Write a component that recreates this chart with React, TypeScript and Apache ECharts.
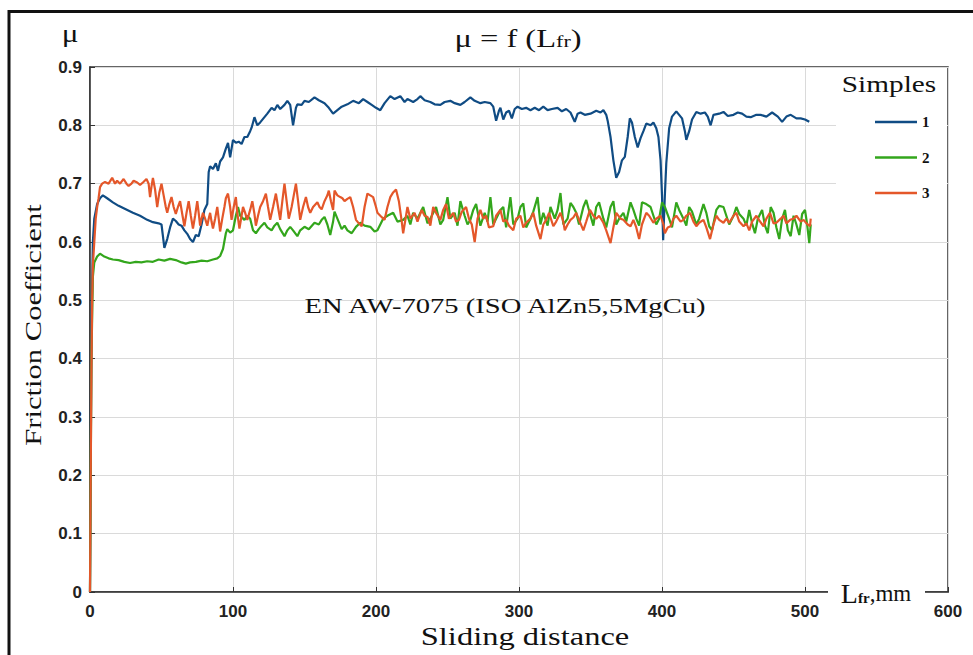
import React, { useEffect, useRef } from "react";
import * as echarts from "echarts";

// ---- data ----
const X_TICKS = [0, 100, 200, 300, 400, 500, 600];
const Y_MIN = 0;
const Y_MAX = 0.9;
const SERIES_NAMES = ["1", "2", "3"];

// Sample 1 (blue): [sliding distance mm, friction coefficient]
const SAMPLE1: [number, number][] = [
  [0, 0], [1, 0.45], [2, 0.6], [3, 0.64], [5, 0.665], [7, 0.675], [9, 0.68], [12, 0.675], [16, 0.668],
  [20, 0.662], [25, 0.656], [30, 0.65], [35, 0.645], [40, 0.638], [44, 0.634], [48, 0.632], [50, 0.63],
  [51, 0.61], [52, 0.59], [54, 0.605], [56, 0.625], [58, 0.64], [60, 0.636], [62, 0.63], [64, 0.628],
  [66, 0.62], [68, 0.614], [70, 0.605], [72, 0.6], [74, 0.612], [76, 0.61], [78, 0.63], [80, 0.655],
  [82, 0.665], [83, 0.72], [84, 0.73], [86, 0.725], [88, 0.735], [89.5, 0.722], [91, 0.738], [93, 0.745],
  [95, 0.76], [96.5, 0.77], [98, 0.745], [100, 0.775], [102, 0.77], [104, 0.772], [106, 0.768], [108, 0.78],
  [110, 0.78], [112, 0.79], [113, 0.796], [115, 0.814], [117, 0.8], [119, 0.805], [122, 0.814], [124, 0.82],
  [127, 0.83], [129, 0.826], [131, 0.835], [133, 0.828], [136, 0.835], [138, 0.842], [140, 0.835],
  [142, 0.8], [144, 0.83], [145, 0.836], [148, 0.835], [150, 0.842], [153, 0.84], [157, 0.848], [160, 0.843],
  [164, 0.838], [167, 0.83], [170, 0.82], [173, 0.826], [176, 0.832], [180, 0.836], [184, 0.842],
  [188, 0.838], [191, 0.845], [194, 0.84], [197, 0.835], [200, 0.83], [203, 0.826], [206, 0.838], [210, 0.85],
  [213, 0.845], [217, 0.85], [220, 0.84], [222, 0.845], [226, 0.84], [229, 0.845], [231, 0.85], [234, 0.843],
  [238, 0.84], [241, 0.836], [245, 0.835], [248, 0.84], [252, 0.842], [255, 0.838], [259, 0.835], [262, 0.84],
  [266, 0.848], [269, 0.842], [273, 0.838], [276, 0.84], [280, 0.838], [282, 0.832], [284, 0.808],
  [286, 0.825], [287, 0.83], [289, 0.81], [291, 0.822], [293, 0.825], [295, 0.812], [297, 0.828],
  [299, 0.832], [302, 0.828], [305, 0.83], [308, 0.826], [311, 0.83], [314, 0.826], [317, 0.832],
  [320, 0.826], [323, 0.828], [327, 0.83], [330, 0.824], [333, 0.828], [336, 0.822], [339, 0.806],
  [341, 0.82], [343, 0.822], [346, 0.818], [350, 0.82], [354, 0.825], [357, 0.822], [359, 0.826],
  [361, 0.818], [362, 0.808], [364, 0.78], [366, 0.74], [368, 0.71], [370, 0.72], [372, 0.74], [374, 0.746],
  [376, 0.78], [377.5, 0.812], [379, 0.805], [381, 0.78], [383, 0.762], [385, 0.778], [387, 0.79],
  [389, 0.803], [392, 0.8], [394, 0.805], [396, 0.795], [397.5, 0.78], [399, 0.74], [400, 0.68],
  [400.8, 0.603], [402, 0.68], [403, 0.735], [405, 0.795], [407, 0.815], [410, 0.824], [412, 0.818],
  [414, 0.812], [416, 0.79], [417, 0.775], [419, 0.79], [421, 0.81], [424, 0.823], [427, 0.82], [430, 0.822],
  [432, 0.815], [434, 0.8], [436, 0.818], [440, 0.82], [443, 0.823], [446, 0.816], [450, 0.818],
  [453, 0.822], [456, 0.82], [459, 0.815], [462, 0.814], [466, 0.818], [469, 0.818], [473, 0.815],
  [477, 0.822], [481, 0.815], [484, 0.806], [487, 0.815], [490, 0.818], [494, 0.812], [497, 0.812],
  [500, 0.81], [503, 0.806],
];

// Sample 2 (green)
const SAMPLE2: [number, number][] = [
  [0, 0], [1, 0.4], [2, 0.54], [3, 0.565], [5, 0.575], [7, 0.58], [10, 0.575], [13, 0.572], [16, 0.57],
  [20, 0.569], [24, 0.566], [28, 0.564], [32, 0.566], [36, 0.565], [40, 0.567], [44, 0.566], [48, 0.57],
  [52, 0.568], [56, 0.571], [60, 0.569], [64, 0.565], [67, 0.563], [70, 0.565], [74, 0.566], [78, 0.568],
  [82, 0.567], [86, 0.57], [89, 0.572], [91, 0.576], [93, 0.588], [95, 0.615], [96, 0.622], [98, 0.616],
  [100, 0.62], [102, 0.645], [103.5, 0.66], [105, 0.645], [108, 0.638], [110, 0.645], [112, 0.64],
  [114, 0.62], [116, 0.615], [118, 0.622], [120, 0.628], [122, 0.633], [124, 0.625], [127, 0.62],
  [129, 0.628], [131, 0.633], [133, 0.622], [136, 0.61], [138, 0.62], [140, 0.626], [142, 0.62], [145, 0.61],
  [147, 0.62], [150, 0.626], [153, 0.622], [157, 0.633], [160, 0.63], [162, 0.638], [164, 0.643],
  [166, 0.63], [168, 0.612], [170, 0.635], [171, 0.652], [173, 0.64], [176, 0.622], [178, 0.628],
  [180, 0.62], [183, 0.615], [186, 0.626], [189, 0.633], [192, 0.628], [196, 0.626], [199, 0.618],
  [201, 0.62], [205, 0.64], [208, 0.645], [212, 0.65], [215, 0.635], [219, 0.638], [222, 0.645],
  [224, 0.63], [226, 0.65], [229, 0.64], [233, 0.66], [236, 0.632], [238, 0.64], [242, 0.66], [245, 0.63],
  [247, 0.638], [250, 0.677], [252, 0.64], [255, 0.65], [257, 0.628], [259, 0.67], [262, 0.645],
  [264, 0.63], [266, 0.638], [268, 0.655], [270, 0.665], [273, 0.628], [276, 0.65], [278, 0.635],
  [280, 0.677], [282, 0.63], [284, 0.64], [287, 0.655], [289, 0.66], [291, 0.625], [294, 0.677],
  [296, 0.63], [299, 0.64], [301, 0.66], [303, 0.666], [305, 0.625], [308, 0.64], [310, 0.652],
  [313, 0.677], [315, 0.63], [317, 0.65], [320, 0.628], [322, 0.66], [325, 0.64], [327, 0.655],
  [329, 0.684], [331, 0.63], [334, 0.64], [336, 0.667], [338, 0.66], [340, 0.65], [342, 0.63], [345, 0.66],
  [347, 0.672], [350, 0.645], [352, 0.628], [354, 0.66], [356, 0.668], [359, 0.64], [361, 0.625],
  [364, 0.66], [366, 0.67], [368, 0.63], [370, 0.64], [373, 0.65], [375, 0.635], [378, 0.668],
  [380, 0.655], [382, 0.64], [384, 0.628], [386, 0.668], [389, 0.665], [392, 0.66], [394, 0.645],
  [396, 0.63], [398, 0.64], [400, 0.668], [402, 0.66], [405, 0.64], [407, 0.625], [410, 0.668],
  [412, 0.655], [415, 0.64], [417, 0.628], [419, 0.66], [421, 0.652], [424, 0.63], [426, 0.64],
  [429, 0.665], [431, 0.65], [433, 0.627], [435, 0.62], [438, 0.655], [440, 0.662], [443, 0.66],
  [445, 0.645], [447, 0.63], [450, 0.645], [452, 0.66], [454, 0.648], [457, 0.64], [459, 0.628],
  [461, 0.655], [463, 0.632], [465, 0.615], [467, 0.64], [470, 0.655], [472, 0.628], [474, 0.615],
  [476, 0.66], [478, 0.65], [480, 0.625], [482, 0.605], [484, 0.64], [486, 0.655], [488, 0.62],
  [490, 0.61], [492, 0.645], [494, 0.63], [496, 0.612], [498, 0.648], [500, 0.655], [501.5, 0.63],
  [503, 0.598], [504, 0.63],
];

// Sample 3 (orange)
const SAMPLE3: [number, number][] = [
  [0, 0], [0.5, 0.2], [1, 0.38], [1.5, 0.5], [2, 0.56], [3, 0.6], [4, 0.64], [5, 0.66], [6, 0.675],
  [7, 0.694], [8.5, 0.7], [10.5, 0.703], [13, 0.7], [15.5, 0.71], [17.5, 0.7], [19, 0.705], [21, 0.7],
  [23.5, 0.708], [25.5, 0.7], [27, 0.696], [29, 0.7], [30.5, 0.705], [33, 0.702], [35, 0.698], [37, 0.702],
  [39.5, 0.708], [41, 0.7], [42, 0.677], [43, 0.695], [44, 0.71], [45.5, 0.69], [47, 0.66], [48.5, 0.685],
  [50, 0.7], [51.5, 0.68], [53, 0.66], [54, 0.65], [55.5, 0.665], [57, 0.677], [58.5, 0.66], [60, 0.648],
  [61.5, 0.66], [63, 0.67], [64.5, 0.648], [66, 0.627], [67.5, 0.65], [69, 0.67], [70.5, 0.645],
  [72, 0.623], [73.5, 0.645], [75, 0.67], [76, 0.65], [77, 0.628], [78, 0.64], [79, 0.65], [80.5, 0.64],
  [82, 0.628], [83, 0.64], [84, 0.65], [85, 0.635], [86, 0.623], [87.5, 0.64], [89, 0.66], [90, 0.64],
  [91, 0.618], [92.5, 0.64], [94, 0.66], [95, 0.675], [96.5, 0.683], [98, 0.66], [99, 0.638],
  [100.5, 0.66], [102, 0.677], [103, 0.65], [104.5, 0.623], [106, 0.645], [107, 0.66], [108.5, 0.65],
  [110, 0.638], [112, 0.655], [113.5, 0.67], [115, 0.648], [116, 0.628], [117.5, 0.645], [119, 0.66],
  [121, 0.67], [123, 0.683], [124.5, 0.66], [126, 0.638], [128, 0.66], [130, 0.683], [131.5, 0.66],
  [133, 0.638], [134.5, 0.67], [136, 0.7], [137.5, 0.67], [139, 0.64], [141, 0.66], [142.5, 0.68],
  [144, 0.7], [145.5, 0.67], [147, 0.638], [149, 0.66], [151, 0.677], [152.5, 0.66], [154, 0.65],
  [156, 0.66], [159, 0.668], [160.5, 0.66], [162, 0.656], [164, 0.67], [166, 0.68], [167, 0.688],
  [168.5, 0.67], [170, 0.655], [171, 0.688], [173, 0.68], [175, 0.677], [176.5, 0.675], [178, 0.67],
  [180, 0.674], [182, 0.677], [184, 0.66], [186, 0.638], [188, 0.632], [190, 0.627], [192, 0.66],
  [194, 0.683], [196, 0.68], [198, 0.677], [200, 0.66], [201, 0.65], [203, 0.645], [206, 0.638],
  [208, 0.66], [210, 0.677], [212, 0.685], [214, 0.69], [216, 0.67], [218, 0.635], [219, 0.615],
  [221, 0.645], [222, 0.66], [224, 0.64], [227, 0.65], [229, 0.635], [232, 0.655], [234, 0.645],
  [236, 0.643], [238, 0.628], [240, 0.66], [242, 0.65], [245, 0.638], [247, 0.655], [249, 0.665],
  [251, 0.64], [254, 0.65], [256, 0.635], [258, 0.638], [260, 0.652], [263, 0.66], [265, 0.64],
  [267, 0.63], [269, 0.6], [271, 0.64], [273, 0.655], [275, 0.64], [277, 0.645], [279, 0.625],
  [282, 0.627], [284, 0.645], [287, 0.655], [289, 0.635], [291, 0.638], [293, 0.628], [296, 0.62],
  [298, 0.64], [301, 0.645], [303, 0.625], [305, 0.633], [308, 0.64], [310, 0.65], [312, 0.628],
  [315, 0.605], [317, 0.63], [319, 0.638], [321, 0.65], [324, 0.627], [326, 0.635], [329, 0.65],
  [331, 0.635], [332, 0.62], [334, 0.63], [336, 0.638], [338, 0.642], [340, 0.65], [342, 0.638],
  [345, 0.62], [347, 0.635], [349.6, 0.655], [352, 0.645], [354, 0.64], [356, 0.645], [359, 0.633],
  [361, 0.62], [364, 0.598], [366, 0.625], [368, 0.65], [371, 0.64], [373, 0.638], [376, 0.63],
  [378, 0.627], [380, 0.638], [382, 0.625], [384, 0.605], [386, 0.63], [389, 0.65], [391, 0.645],
  [394, 0.633], [396, 0.64], [399, 0.645], [401, 0.63], [402, 0.615], [404, 0.625], [406, 0.627],
  [408, 0.64], [410, 0.645], [413, 0.635], [415, 0.638], [417, 0.645], [419.6, 0.65], [422, 0.635],
  [424, 0.627], [426, 0.633], [429, 0.638], [431, 0.625], [433.6, 0.605], [436, 0.63], [438, 0.645],
  [440, 0.638], [443, 0.633], [445, 0.64], [447, 0.633], [450, 0.645], [452, 0.65], [454, 0.635],
  [457, 0.627], [459, 0.632], [461, 0.62], [463, 0.635], [466, 0.645], [468, 0.637], [471, 0.627],
  [473, 0.64], [475.5, 0.65], [478, 0.632], [480, 0.633], [483, 0.64], [485, 0.645], [487, 0.632],
  [489.6, 0.638], [492, 0.64], [494, 0.645], [497, 0.635], [499, 0.638], [501, 0.632], [503.5, 0.627],
  [504, 0.64],
];

const SAMPLES = [SAMPLE1, SAMPLE2, SAMPLE3];
const COLORS = ["#104c84", "#33a61c", "#e4572a"];

const SERIF = "'Liberation Serif', 'Times New Roman', serif";
const SANS = "'Liberation Sans', Arial, sans-serif";

export default function App() {
  const ref = useRef<HTMLDivElement>(null);

  useEffect(() => {
    if (!ref.current) return;
    const chart = echarts.init(ref.current, undefined, { renderer: "svg" });

    const option: any = {
      animation: false,
      backgroundColor: "#ffffff",
      grid: {
        left: 90,
        right: 25,
        top: 67,
        bottom: 63,
        show: true,
        borderColor: "#333",
        borderWidth: 1.5,
        backgroundColor: "transparent",
      },
      legend: {
        orient: "vertical",
        left: 875,
        top: 114,
        padding: 0,
        itemWidth: 42,
        itemHeight: 2.5,
        itemGap: 19.5,
        icon: "rect",
        data: SERIES_NAMES,
        textStyle: {
          fontFamily: SERIF,
          fontWeight: "bold",
          fontSize: 15,
          lineHeight: 16,
          color: "#111",
        },
        z: 20,
      },
      xAxis: {
        type: "value",
        min: X_TICKS[0],
        max: X_TICKS[X_TICKS.length - 1],
        interval: 100,
        axisLine: { show: true, lineStyle: { color: "#333", width: 1.5 } },
        axisTick: { show: true, inside: true, length: 5, lineStyle: { color: "#333" } },
        axisLabel: {
          margin: 11,
          fontFamily: SANS,
          fontWeight: "bold",
          fontSize: 17,
          color: "#222",
        },
        splitLine: { show: true, lineStyle: { color: "#dadada", width: 1 } },
      },
      yAxis: {
        type: "value",
        min: Y_MIN,
        max: Y_MAX,
        interval: 0.1,
        axisLine: { show: true, lineStyle: { color: "#333", width: 1.5 } },
        axisTick: { show: true, inside: true, length: 5, lineStyle: { color: "#333" } },
        axisLabel: {
          margin: 8,
          fontFamily: SANS,
          fontWeight: "bold",
          fontSize: 17,
          color: "#222",
        },
        splitLine: { show: true, lineStyle: { color: "#dadada", width: 1 } },
      },
      series: SAMPLES.map((d, i) => ({
        name: SERIES_NAMES[i],
        type: "line",
        data: d,
        showSymbol: false,
        symbol: "none",
        lineStyle: { color: COLORS[i], width: 2.2 },
        itemStyle: { color: COLORS[i] },
        z: 2 + i,
      })),
      graphic: [
        // outer frame (left and top edges visible)
        {
          type: "polyline",
          z: 30,
          shape: { points: [[9, 660], [9, 11.5], [980, 11.5]] },
          style: { stroke: "#111", lineWidth: 3, fill: "none" },
        },
        // white panel behind the legend
        {
          type: "rect",
          z: 15,
          shape: { x: 836, y: 68.5, width: 111, height: 133 },
          style: { fill: "#ffffff" },
        },
        // white gap in the x axis for its name
        {
          type: "rect",
          z: 15,
          shape: { x: 828, y: 584, width: 97, height: 16 },
          style: { fill: "#ffffff" },
        },
        {
          type: "text",
          z: 25,
          x: 889,
          y: 84,
          scaleX: 1.22,
          style: {
            text: "Simples",
            fontFamily: SERIF,
            fontSize: 24,
            fill: "#111",
            align: "center",
            verticalAlign: "middle",
          },
        },
        {
          type: "text",
          z: 25,
          x: 70,
          y: 34,
          scaleX: 1.25,
          style: {
            text: "μ",
            fontFamily: SERIF,
            fontSize: 25,
            fill: "#111",
            align: "center",
            verticalAlign: "middle",
          },
        },
        {
          type: "text",
          z: 25,
          x: 518,
          y: 38,
          scaleX: 1.3,
          style: {
            text: "{a|μ = f (L}{b|fr}{a|)}",
            align: "center",
            verticalAlign: "middle",
            rich: {
              a: { fontFamily: SERIF, fontSize: 25, fill: "#111", color: "#111" },
              b: { fontFamily: SERIF, fontSize: 17, fill: "#111", color: "#111", padding: [6, 0, 0, 0] },
            },
          },
        },
        {
          type: "text",
          z: 25,
          x: 505,
          y: 306,
          scaleX: 1.3,
          style: {
            text: "EN AW-7075 (ISO AlZn5,5MgCu)",
            fontFamily: SERIF,
            fontSize: 22,
            fill: "#111",
            align: "center",
            verticalAlign: "middle",
          },
        },
        {
          type: "text",
          z: 25,
          x: 525,
          y: 636,
          scaleX: 1.3,
          style: {
            text: "Sliding distance",
            fontFamily: SERIF,
            fontSize: 25,
            fill: "#111",
            align: "center",
            verticalAlign: "middle",
          },
        },
        {
          type: "text",
          z: 25,
          x: 33,
          y: 325,
          rotation: Math.PI / 2,
          scaleX: 1.33,
          style: {
            text: "Friction Coefficient",
            fontFamily: SERIF,
            fontSize: 23,
            fill: "#111",
            align: "center",
            verticalAlign: "middle",
          },
        },
        {
          type: "text",
          z: 25,
          x: 876,
          y: 593,
          style: {
            text: "{L|L}{s|fr}{m|,mm}",
            align: "center",
            verticalAlign: "middle",
            rich: {
              L: { fontFamily: SERIF, fontSize: 28, fill: "#111", color: "#111" },
              s: { fontFamily: SERIF, fontSize: 15, fontWeight: "bold", fill: "#111", color: "#111", padding: [10, 0, 0, 0] },
              m: { fontFamily: SERIF, fontSize: 23, fill: "#111", color: "#111" },
            },
          },
        },
      ],
    };

    chart.setOption(option);
    return () => chart.dispose();
  }, []);

  return (
    <div
      ref={ref}
      style={{ position: "absolute", left: 0, top: 0, width: 973, height: 655 }}
    />
  );
}
